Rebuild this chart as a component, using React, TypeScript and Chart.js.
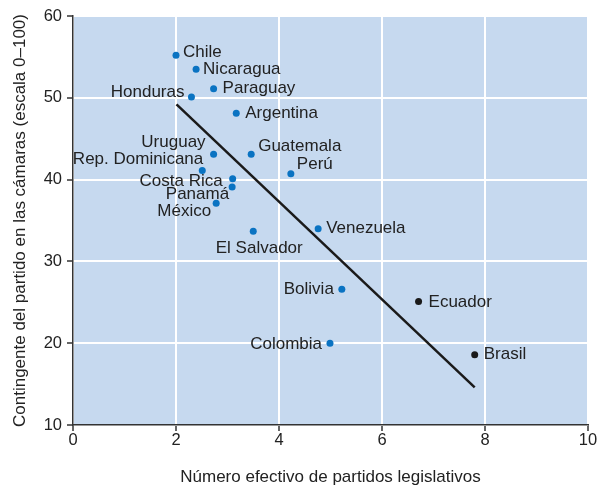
import React, { useEffect, useRef } from "react";
import { Chart, registerables } from "chart.js";

Chart.register(...registerables);

const countries = [
  "Chile", "Nicaragua", "Paraguay", "Honduras", "Argentina", "Uruguay",
  "Guatemala", "Perú", "Rep. Dominicana", "Costa Rica", "Panamá", "México",
  "El Salvador", "Venezuela", "Bolivia", "Colombia", "Ecuador", "Brasil",
];
const partyCount = [
  2.0, 2.39, 2.73, 2.3, 3.17, 2.73, 3.46, 4.23, 2.51, 3.1, 3.09, 2.78,
  3.5, 4.76, 5.22, 4.99, 6.71, 7.8,
];
const contingent = [
  55.2, 53.5, 51.1, 50.1, 48.1, 43.1, 43.1, 40.7, 41.1, 40.1, 39.1, 37.1,
  33.7, 34.0, 26.6, 20.0, 25.1, 18.6,
];
const highlighted = ["Ecuador", "Brasil"];
const trendX = [2.01, 7.8];
const trendY = [49.2, 14.6];
const xTicks = [0, 2, 4, 6, 8, 10];
const yTicks = [10, 20, 30, 40, 50, 60];

const FONT = "'Liberation Sans', Arial, Helvetica, sans-serif";
const BLUE = "#0a73c2";
const DARK = "#1a1a1a";
const TEXT = "#222222";

// label placement: [dx, dy, align]
const labelPlacement: Record<string, [number, number, CanvasTextAlign]> = {
  Chile: [7, -3, "left"],
  Nicaragua: [7, 0, "left"],
  Paraguay: [9, 0, "left"],
  Honduras: [-7, -5, "right"],
  Argentina: [9, 0, "left"],
  Uruguay: [-8, -12, "right"],
  Guatemala: [7, -8, "left"],
  "Perú": [6, -10, "left"],
  "Rep. Dominicana": [1, -11, "right"],
  "Costa Rica": [-10, 3, "right"],
  "Panamá": [-3, 7, "right"],
  "México": [-5, 8, "right"],
  "El Salvador": [6, 17, "center"],
  Venezuela: [8, 0, "left"],
  Bolivia: [-8, 0, "right"],
  Colombia: [-8, 1, "right"],
  Ecuador: [10, 1, "left"],
  Brasil: [9, 0, "left"],
};

const bgPlugin = {
  id: "plotBg",
  beforeDraw(chart: any) {
    const { ctx, chartArea } = chart;
    ctx.save();
    ctx.fillStyle = "#c6d9ef";
    ctx.fillRect(chartArea.left, chartArea.top, chartArea.right - chartArea.left, chartArea.bottom - chartArea.top);
    ctx.restore();
  },
};

const labelPlugin = {
  id: "pointLabels",
  afterDatasetsDraw(chart: any) {
    const { ctx } = chart;
    const meta = chart.getDatasetMeta(1);
    ctx.save();
    ctx.font = `17px ${FONT}`;
    ctx.fillStyle = TEXT;
    ctx.textBaseline = "middle";
    meta.data.forEach((el: any, i: number) => {
      const name = countries[i];
      const [dx, dy, align] = labelPlacement[name] || [7, 0, "left"];
      ctx.textAlign = align;
      ctx.fillText(name, el.x + dx, el.y + dy);
    });
    ctx.restore();
  },
};

export default function App() {
  const ref = useRef<HTMLCanvasElement>(null);
  useEffect(() => {
    document.body.style.margin = "0";
    const canvas = ref.current!;
    const chart = new Chart(canvas, {
      type: "scatter",
      data: {
        datasets: [
          {
            type: "line",
            data: trendX.map((x, i) => ({ x, y: trendY[i] })),
            borderColor: DARK,
            borderWidth: 2.5,
            pointRadius: 0,
            fill: false,
          } as any,
          {
            data: partyCount.map((x, i) => ({ x, y: contingent[i] })),
            pointRadius: 3.5,
            pointBorderWidth: 0,
            pointBackgroundColor: countries.map((c) => (highlighted.includes(c) ? DARK : BLUE)),
            pointBorderColor: countries.map((c) => (highlighted.includes(c) ? DARK : BLUE)),
          },
        ],
      },
      options: {
        animation: false,
        responsive: false,
        layout: { padding: { top: 16, right: 17, left: 0, bottom: 0 } },
        plugins: { legend: { display: false }, tooltip: { enabled: false } },
        scales: {
          x: {
            type: "linear",
            min: 0,
            max: 10,
            afterBuildTicks: (s: any) => { s.ticks = xTicks.map((v) => ({ value: v })); },
            afterFit: (s: any) => { s.height = 64; },
            border: { color: "#333", width: 1.5 },
            grid: { color: "#ffffff", lineWidth: 2, tickColor: "#333", tickLength: 6, tickWidth: 1.5 },
            ticks: { color: TEXT, font: { family: FONT, size: 16.5 }, padding: 0 },
            title: {
              display: true,
              text: "Número efectivo de partidos legislativos",
              color: TEXT,
              font: { family: FONT, size: 17 },
              padding: { top: 0, bottom: 1 },
            },
          },
          y: {
            type: "linear",
            min: 10,
            max: 60,
            afterBuildTicks: (s: any) => { s.ticks = yTicks.map((v) => ({ value: v })); },
            afterFit: (s: any) => { s.width = 73; },
            border: { color: "#333", width: 1.5 },
            grid: { color: "#ffffff", lineWidth: 2, tickColor: "#333", tickLength: 6, tickWidth: 1.5 },
            ticks: { color: TEXT, font: { family: FONT, size: 16.5 }, padding: 5 },
            title: {
              display: true,
              text: "Contingente del partido en las cámaras (escala 0–100)",
              color: TEXT,
              font: { family: FONT, size: 17 },
              padding: { top: 10, bottom: 0 },
            },
          },
        },
      },
      plugins: [bgPlugin, labelPlugin],
    });
    return () => chart.destroy();
  }, []);
  return (
    <div style={{ width: 605, height: 489 }}>
      <canvas ref={ref} width={605} height={489} style={{ display: "block" }} />
    </div>
  );
}
